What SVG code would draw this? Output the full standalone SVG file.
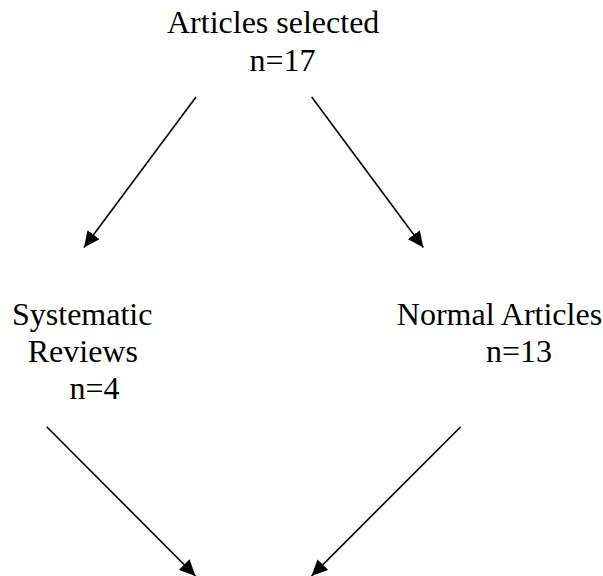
<svg xmlns="http://www.w3.org/2000/svg" width="603" height="576" viewBox="0 0 603 576">
<style>
text{font-family:"Liberation Serif","Times New Roman",serif;font-size:32px;fill:#000}
.c{stroke:#000;stroke-width:1.6;fill:none}
</style>
<defs>
<marker id="ah" markerUnits="userSpaceOnUse" markerWidth="16" markerHeight="15" refX="16" refY="7.5" orient="auto">
<path d="M0,0 L16,7.5 L0,15 Z" fill="#000"/>
</marker>
</defs>
<rect width="603" height="576" fill="#fff"/>
<g id="selected">
<text x="167" y="33">Articles selected</text>
<text x="249.5" y="71">n=17</text>
</g>
<g id="systematic">
<text x="12" y="325">Systematic</text>
<text x="27.7" y="362">Reviews</text>
<text x="69.5" y="399">n=4</text>
</g>
<g id="normal">
<text x="396.8" y="325">Normal Articles</text>
<text x="486" y="362">n=13</text>
</g>
<g id="connectors">
<line class="c" x1="196" y1="97" x2="84" y2="247.5" marker-end="url(#ah)"/>
<line class="c" x1="311.7" y1="97" x2="423.3" y2="247.5" marker-end="url(#ah)"/>
<line class="c" x1="46.7" y1="426.7" x2="195.5" y2="576" marker-end="url(#ah)"/>
<line class="c" x1="460.7" y1="426.7" x2="311.5" y2="576" marker-end="url(#ah)"/>
</g>
</svg>
